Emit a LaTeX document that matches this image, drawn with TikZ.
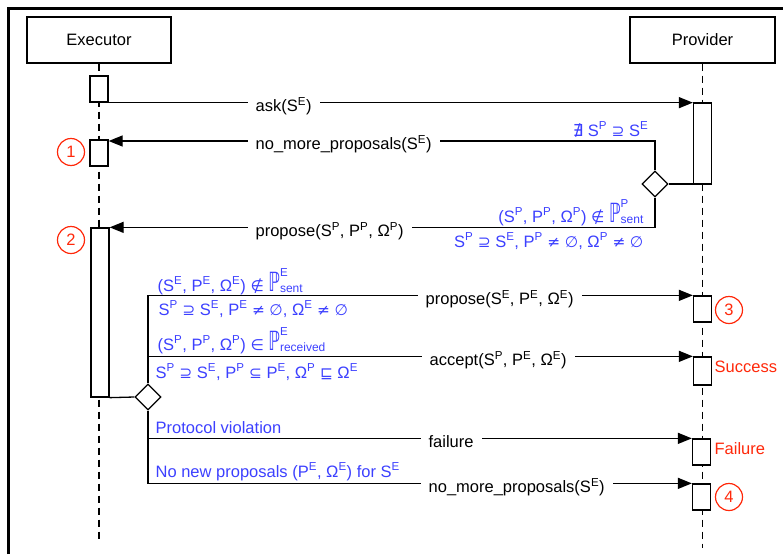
\documentclass[tikz,border=0pt]{standalone}
\usepackage{graphicx}
\usepackage{fontspec}
\setmainfont{Liberation Sans}
\newfontfamily\symf{DejaVu Sans}[Scale=0.93]
\newfontfamily\symb{DejaVu Sans}
\usetikzlibrary{arrows.meta,shapes.geometric}
\definecolor{cblue}{RGB}{60,64,255}
\definecolor{cred}{RGB}{255,40,10}
\newcommand\su[1]{\textsuperscript{#1}}
\newcommand\sy[1]{{\symf #1}}
\newcommand\PPs[2]{\scalebox{1}[1.6]{\symb ℙ}\rlap{\raisebox{15pt}{\fontsize{11.5}{12}\selectfont #1}}\raisebox{-1.5pt}{\fontsize{12}{12}\selectfont #2}}
\begin{document}
\begin{tikzpicture}[x=1pt,y=-1pt, font=\fontsize{16.5}{20}\selectfont,
  line width=1.3pt,
  actor/.style={draw, rectangle, minimum width=144pt, minimum height=46pt, inner sep=0pt, fill=white},
  act/.style={draw, rectangle, fill=white, minimum width=18pt, inner sep=0pt},
  life/.style={dash pattern=on 7pt off 5pt, line width=1.2pt},
  msg/.style={-{Triangle[length=14pt,width=11pt]}},
  dec/.style={draw, diamond, fill=white, minimum width=26pt, minimum height=26pt, inner sep=0pt, aspect=1},
  lbl/.style={fill=white, inner xsep=8pt, inner ysep=1pt, anchor=west},
  cond/.style={text=cblue, inner sep=0pt},
  num/.style={draw=cred, text=cred, circle, minimum size=27pt, inner sep=0pt, line width=1.2pt},
  res/.style={text=cred, inner sep=0pt, anchor=west}]
\useasboundingbox (0,0) rectangle (783,554);
% frame
\draw[line width=3pt] (8.5,554) -- (8.5,8.5) -- (783,8.5);
% actors
\node[actor] (ex) at (99,40) {Executor};
\node[actor, minimum width=145pt] (pv) at (702.5,40) {Provider};
\coordinate (exend) at (99,541);
\coordinate (pvend) at (702.5,548);
\draw[life] (ex.south) -- (exend);
\draw[life] (pv.south) -- (pvend);
% activations
\node[act, minimum height=26pt] (a0) at (99,89) {};
\node[act, minimum height=26pt] (a1) at (99,153) {};
\node[act, minimum height=169pt] (a2) at (100,312.5) {};
\node[act, minimum height=81pt] (p0) at (702.5,143.5) {};
\node[act, minimum height=26pt] (p3) at (702.5,309) {};
\node[act, minimum height=28pt] (p4) at (702.5,371) {};
\node[act, minimum height=26pt] (p5) at (701.5,452) {};
\node[act, minimum height=26pt] (p6) at (701.5,497) {};
% decisions
\node[dec] (d1) at (655,184) {};
\node[dec] (d2) at (148,397) {};
\coordinate (k1) at (655,141);
% messages
\draw[msg] (a0.south east) -- (a0.south east -| p0.west);
\draw (d1.east) -- (d1.east -| p0.west);
\draw[msg] (d1.north) -- (k1) -- (k1 -| a1.east);
\draw[msg] (d1.south) |- (a2.north east);
\draw (a2.south east) -- (d2.west);
\draw[msg] (d2.north) |- (p3.north west);
\draw[msg] (d2.north |- p4.north west) -- (p4.north west);
\draw[msg] (d2.south) |- (p6.north west);
\draw[msg] (d2.south |- p5.north west) -- (p5.north west);
% message labels
\node[lbl] (l1) at (247,106) {ask(S\su{E})};
\node[lbl] (l2) at (247,144) {no\_more\_proposals(S\su{E})};
\node[lbl] (l3) at (247,231) {propose(S\su{P}, P\su{P}, Ω\su{P})};
\node[lbl] (l4) at (417,299) {propose(S\su{E}, P\su{E}, Ω\su{E})};
\node[lbl] (l5) at (421,360) {accept(S\su{P}, P\su{E}, Ω\su{E})};
\node[lbl] (l6) at (420,442) {failure};
\node[lbl] (l7) at (420,487) {no\_more\_proposals(S\su{E})};
% conditions
\node[cond, anchor=base east] (c1) at (649,136) {{\symb ∄} S\su{P} \sy{⊇} S\su{E}};
\node[cond, anchor=base east] (c2) at (644,222) {(S\su{P}, P\su{P}, Ω\su{P}) \sy{∉} \PPs{P}{sent}};
\node[cond, anchor=base east] (c3) at (644,247) {S\su{P} \sy{⊇} S\su{E}, P\su{P} \sy{≠} \sy{∅}, Ω\su{P} \sy{≠} \sy{∅}};
\node[cond, anchor=base west] (c4) at (157,291) {(S\su{E}, P\su{E}, Ω\su{E}) \sy{∉} \PPs{E}{sent}};
\node[cond, anchor=base west] (c5) at (158,315) {S\su{P} \sy{⊇} S\su{E}, P\su{E} \sy{≠} \sy{∅}, Ω\su{E} \sy{≠} \sy{∅}};
\node[cond, anchor=base west] (c6) at (157,350) {(S\su{P}, P\su{P}, Ω\su{P}) \sy{∈} \PPs{E}{received}};
\node[cond, anchor=base west] (c7) at (155,378) {S\su{P} \sy{⊇} S\su{E}, P\su{P} \sy{⊆} P\su{E}, Ω\su{P} \sy{⊑} Ω\su{E}};
\node[cond, anchor=base west] (c8) at (155,433) {Protocol violation};
\node[cond, anchor=base west] (c9) at (155,477) {No new proposals (P\su{E}, Ω\su{E}) for S\su{E}};
% markers
\node[num] (n1) at (71,152) {1};
\node[num] (n2) at (71,240) {2};
\node[num] (n3) at (729,310) {3};
\node[num] (n4) at (729,497) {4};
\node[res] (r1) at (714,367) {Success};
\node[res] (r2) at (714,449) {Failure};
\end{tikzpicture}
\end{document}
